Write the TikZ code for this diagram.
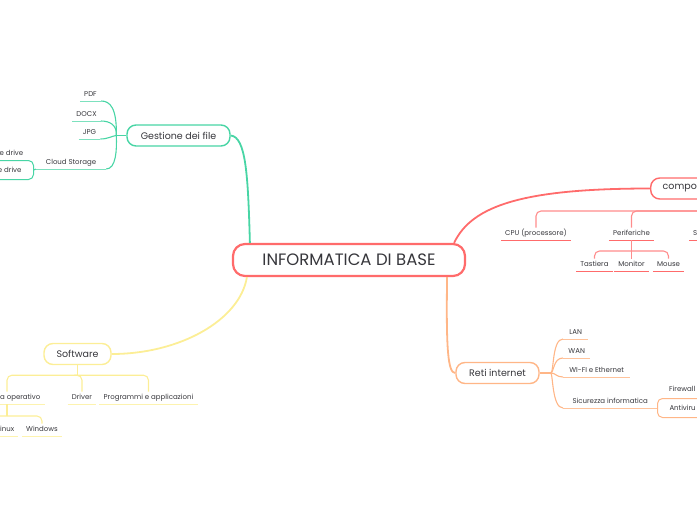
\documentclass[tikz,border=0pt]{standalone}
\usepackage{fontspec}
\setmainfont{Poppins}
\usetikzlibrary{positioning, calc}
\definecolor{mmred}{RGB}{255,107,107}
\definecolor{mmredlt}{RGB}{255,140,140}
\definecolor{mmteal}{RGB}{72,213,165}
\definecolor{mmtealln}{RGB}{125,225,190}
\definecolor{mmyellow}{RGB}{252,238,150}
\definecolor{mmyellowln}{RGB}{253,243,175}
\definecolor{mmorange}{RGB}{255,182,135}
\definecolor{mmorangeln}{RGB}{255,195,155}
\definecolor{inkgray}{RGB}{55,55,60}
\tikzset{
    rootbox/.style={rectangle, rounded corners=12pt, draw=mmred, fill=white, line width=2.2pt, minimum width=232pt, minimum height=32pt, font=\fontsize{16.5}{18}\selectfont, text=inkgray},
    topicbox/.style={rectangle, rounded corners=9pt, draw=#1, fill=white, line width=1.4pt, minimum height=21pt, inner xsep=12pt, font=\fontsize{9.5}{11}\selectfont, text=inkgray},
    subbox/.style={rectangle, rounded corners=5pt, draw=#1, fill=white, line width=1pt, minimum height=19pt, inner xsep=12pt, font=\fontsize{7}{8}\selectfont, text=inkgray},
    leaf/.style={inner xsep=4pt, inner ysep=2.5pt, text height=5.5pt, text depth=1.5pt, font=\fontsize{7}{8}\selectfont, text=inkgray,
        append after command={(\tikzlastnode.south west) edge[draw=#1, line width=0.9pt] (\tikzlastnode.south east)}},
    plain/.style={inner xsep=4pt, inner ysep=2.5pt, text height=5.5pt, text depth=1.5pt, font=\fontsize{7}{8}\selectfont, text=inkgray},
    mainlink/.style={draw=#1, line width=1.8pt},
    sublink/.style={draw=#1, line width=1.1pt, rounded corners=5pt}
}
\begin{document}
\begin{tikzpicture}[x=1pt, y=-1pt]
    \useasboundingbox (0,0) rectangle (697,520);
    \clip (0,0) rectangle (697,520);
    \node[rootbox] (root) at (349,260) {INFORMATICA DI BASE};
    % Gestione dei file
    \node[topicbox=mmteal, minimum width=103pt] (gestione) at (178.5,135.5) {Gestione dei file};
    \node[leaf=mmtealln, anchor=south, minimum width=21pt] (pdf) at (90.5,101) {PDF};
    \node[leaf=mmtealln, anchor=south, minimum width=27pt] (docx) at (86.5,121) {DOCX};
    \node[leaf=mmtealln, anchor=south, minimum width=21pt] (jpg) at (89.5,139) {JPG};
    \node[leaf=mmtealln, anchor=south, minimum width=70pt] (cloud) at (71,169) {Cloud Storage};
    \node[plain, anchor=west] (drivea) at (-4.5,153) {e drive};
    \node[subbox=mmteal, anchor=east] (driveb) at (34,170) {e drive};
    \coordinate[left=10pt of gestione.west] (gb);
    \draw[mainlink=mmteal] (gestione.east) .. controls (246,137) and (248,175) .. ($(root.north west)+(18,0)$);
    \draw[sublink=mmteal] (gestione.west) -- (gb);
    \draw[sublink=mmteal] (gb) .. controls (117,108) and (110,101) .. (pdf.south east);
    \draw[sublink=mmteal] (gb) .. controls (117,125) and (110,121) .. (docx.south east);
    \draw[sublink=mmteal] (gb) .. controls (112,136) and (108,139) .. (jpg.south east);
    \draw[sublink=mmteal] (gb) .. controls (117,150) and (116,169) .. (cloud.south east);
    \draw[sublink=mmteal] (cloud.south west) -- (driveb.east);
    % Software
    \node[topicbox=mmyellow, minimum width=67pt] (software) at (77.5,354) {Software};
    \node[leaf=mmyellowln, anchor=south west] (sisop) at (-4,404) {a operativo};
    \node[leaf=mmyellowln, anchor=south, minimum width=28pt] (driver) at (82,404) {Driver};
    \node[leaf=mmyellowln, anchor=south, minimum width=97pt] (programmi) at (148.5,404) {Programmi e applicazioni};
    \node[leaf=mmyellowln, anchor=south west] (linux) at (-4,436) {inux};
    \node[leaf=mmyellowln, anchor=south, minimum width=40pt] (windows) at (42,436) {Windows};
    \coordinate[below=10pt of software.south] (sb);
    \coordinate (ob) at ($(sisop.south west)+(11,12)$);
    \draw[mainlink=mmyellow] (software.east) .. controls (180,354) and (240,320) .. ($(root.south west)+(15,0)$);
    \draw[sublink=mmyellow] (software.south) -- (sb);
    \draw[sublink=mmyellow] (sb) -| ($(sisop.north west)+(11,0)$);
    \draw[sublink=mmyellow] (sb) -| (driver.north);
    \draw[sublink=mmyellow] (sb) -| (programmi.north);
    \draw[sublink=mmyellow] ($(sisop.south west)+(11,0)$) -- (ob);
    \draw[sublink=mmyellow] (ob) -| (windows.north);
    \draw[sublink=mmyellow] (ob) -| ($(linux.north west)+(-2,0)$);
    % componenti
    \node[topicbox=mmred, anchor=west] (compon) at (650,188.5) {compon};
    \node[leaf=mmred, anchor=south, minimum width=68pt] (cpu) at (536,240) {CPU (processore)};
    \node[leaf=mmred, anchor=south, minimum width=45pt] (periferiche) at (631.5,240) {Periferiche};
    \node[leaf=mmred, anchor=south west] (sch) at (689,240) {S};
    \node[leaf=mmred, anchor=south, minimum width=35pt] (tastiera) at (594.5,271) {Tastiera};
    \node[leaf=mmred, anchor=south, minimum width=35pt] (monitor) at (631.5,271) {Monitor};
    \node[leaf=mmred, anchor=south, minimum width=31pt] (mouse) at (668.5,271) {Mouse};
    \coordinate (cb) at (760,211);
    \coordinate[below=11pt of periferiche.south] (pb);
    \draw[mainlink=mmred] ($(root.north east)+(-12,0)$) .. controls (472,205) and (525,188.5) .. (compon.west);
    \draw[sublink=mmredlt] (compon.south -| cb) -- (cb);
    \draw[sublink=mmredlt] (cb) -| (cpu.north);
    \draw[sublink=mmredlt] (cb) -| (periferiche.north);
    \draw[sublink=mmredlt] (cb) -| ($(sch.north west)+(30,0)$);
    \draw[sublink=mmredlt] (periferiche.south) -- (pb);
    \draw[sublink=mmredlt] (pb) -| (tastiera.north);
    \draw[sublink=mmredlt] (pb) -| (monitor.north);
    \draw[sublink=mmredlt] (pb) -| (mouse.north);
    % Reti internet
    \node[topicbox=mmorange, minimum width=83pt] (reti) at (497.5,373) {Reti internet};
    \node[leaf=mmorangeln, anchor=south west, minimum width=25pt] (lan) at (563,339) {LAN};
    \node[leaf=mmorangeln, anchor=south west, minimum width=27pt] (wan) at (563,358) {WAN};
    \node[leaf=mmorangeln, anchor=south west, minimum width=67pt] (wifi) at (563,377) {WI-FI e Ethernet};
    \node[leaf=mmorangeln, anchor=south west, minimum width=94pt] (sicurezza) at (563,408) {Sicurezza informatica};
    \node[plain, anchor=south west] (firewall) at (665,396) {Firewall};
    \node[subbox=mmorange, anchor=west] (antivirus) at (657,408) {Antiviru};
    \coordinate[right=11pt of reti.east] (rb);
    \draw[mainlink=mmorange] ($(root.south east)+(-19,0)$) .. controls (446,350) and (448,373) .. (reti.west);
    \draw[sublink=mmorange] (reti.east) -- (rb);
    \draw[sublink=mmorange] (rb) .. controls (554,373) and (552,339) .. (lan.south west);
    \draw[sublink=mmorange] (rb) .. controls (554,373) and (553,358) .. (wan.south west);
    \draw[sublink=mmorange] (rb) .. controls (556,373) and (556,377) .. (wifi.south west);
    \draw[sublink=mmorange] (rb) .. controls (553,373) and (552,408) .. (sicurezza.south west);
    \draw[sublink=mmorange] (sicurezza.south east) -- (antivirus.west);
\end{tikzpicture}
\end{document}
